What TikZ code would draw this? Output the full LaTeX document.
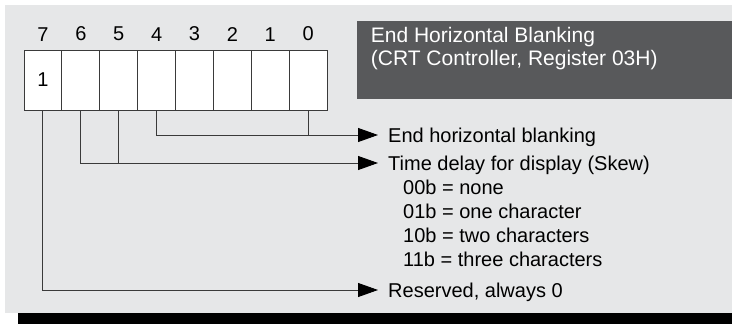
\documentclass[tikz,border=0pt]{standalone}
\usepackage{fontspec}
\setmainfont{Liberation Sans}
\usetikzlibrary{positioning, arrows.meta}
\definecolor{panel}{HTML}{E6E7E8}
\definecolor{banner}{HTML}{58595B}
\definecolor{wire}{HTML}{3A3A3A}

\begin{document}
\begin{tikzpicture}[x=1pt, y=-1pt,
    every node/.style={font=\fontsize{20}{24}\selectfont},
    bitcell/.style={rectangle, draw=wire, line width=0.9pt, fill=white,
      minimum width=37.875pt, minimum height=60pt, inner sep=0},
    bitnum/.style={inner sep=0},
    field/.style={anchor=west, inner xsep=10pt, inner ysep=0,
      text height=15pt, text depth=1pt},
    code/.style={anchor=base west, inner sep=0},
    wire/.style={draw=wire, line width=0.9pt},
    arr/.style={wire, -{Triangle[length=20pt, width=14pt, black]}}]
  \useasboundingbox (0,0) rectangle (732,324);
  \fill[panel] (5,5) rectangle (732,313);
  \fill[black] (18,313) rectangle (732,324);

  % register bits
  \foreach \b in {7,...,0}{
    \node[bitcell] (bit\b) at ({24+(7.5-\b)*37.875}, 80) {};
    \node[bitnum, above=8.3pt of bit\b] (num\b) {\b};
  }
  \node (val7) at (bit7) {1};

  % title
  \node[fill=banner, minimum width=375pt, minimum height=78pt,
    anchor=north west, inner sep=0] (banner) at (357,21) {};
  \node[anchor=north west, align=left, inner sep=0, text=white,
    font=\fontsize{21}{23.5}\selectfont] (title) at (370.7,26.7)
    {End Horizontal Blanking\\(CRT Controller, Register 03H)};

  % fields
  \node[field] (ehb) at (378,135) {End horizontal blanking};
  \node[field] (skew) at (378,163) {Time delay for display (Skew)};
  \node[field] (rsvd) at (378,290) {Reserved, always 0};
  \foreach \val/\desc [count=\k] in {00b/none, 01b/one character,
      10b/two characters, 11b/three characters}
    \node[code] (code\val) at (403, {170+24*\k}) {\val{} = \desc};

  \draw[arr] (bit4.south) |- (ehb.west);
  \draw[wire] (bit0.south) -- (bit0.south |- ehb.west);
  \draw[arr] (bit6.south) |- (skew.west);
  \draw[wire] (bit5.south) -- (bit5.south |- skew.west);
  \draw[arr] (bit7.south) |- (rsvd.west);
\end{tikzpicture}
\end{document}
